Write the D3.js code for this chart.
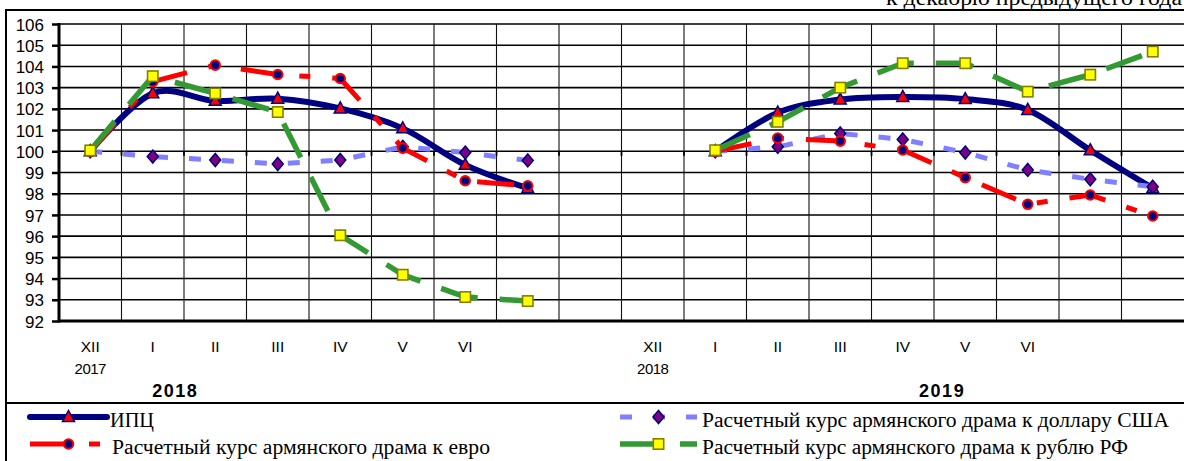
<!DOCTYPE html>
<html><head><meta charset="utf-8">
<script src="https://cdn.jsdelivr.net/npm/d3@7/dist/d3.min.js"></script>
<style>
body{margin:0;background:#fff}svg{display:block}
svg text.serif{font-family:"Liberation Serif","Times New Roman",serif}
svg text.sans{font-family:"Liberation Sans",Arial,sans-serif}
</style>
</head><body>
<script>
// ---- data ----
const categories = ["XII","I","II","III","IV","V","VI","","","XII","I","II","III","IV","V","VI","",""];
const yearLabels = ["2017","","","","","","","","","2018","","","","","","","",""];
const groupLabels = ["2018","2019"];
const yTicks = [92,93,94,95,96,97,98,99,100,101,102,103,104,105,106];
const ipc = [100, 102.73, 102.38, 102.48, 102.02, 101.08, 99.36, 98.26, null, null, 100, 101.82, 102.44, 102.56, 102.46, 101.95, 100.05, 98.26];
const usd = [100, 99.75, 99.59, 99.40, 99.59, 100.21, 99.94, 99.57, null, null, 100, 100.21, 100.84, 100.56, 99.94, 99.12, 98.68, 98.33];
const eur = [100, 103.28, 104.06, 103.62, 103.43, 100.15, 98.61, 98.37, null, null, 100, 100.62, 100.48, 100.06, 98.76, 97.50, 97.94, 96.95];
const rub = [100.04, 103.54, 102.73, 101.85, 96.04, 94.18, 93.13, 92.94, null, null, 100.05, 101.39, 103.00, 104.15, 104.15, 102.81, 103.61, 104.70];
const legendNames = ["ИПЦ", "Расчетный курс армянского драма к доллару США", "Расчетный курс армянского драма к евро", "Расчетный курс армянского драма к рублю РФ"];
const noteText = "к  декабрю предыдущего года";

// ---- layout ----
const W = 1184, H = 461;
const plot = {left: 59, right: 1184, top: 24, bottom: 321};
const svg = d3.select("body").append("svg").attr("width", W).attr("height", H);

const x = d3.scaleLinear().domain([0, categories.length]).range([plot.left, plot.right]);
const xc = i => x(i + 0.5);
const y = d3.scaleLinear().domain([92, 106]).range([plot.bottom, plot.top]);

// top note (cut off at top, as in the original)
svg.append("text").attr("class", "serif").attr("x", 1182).attr("y", 5).attr("text-anchor", "end")
  .attr("font-size", 20)
  .attr("textLength", 296).attr("lengthAdjust", "spacingAndGlyphs").text(noteText);

// frame
svg.append("rect").attr("x", 6).attr("y", 10).attr("width", 1300).attr("height", 600)
  .attr("fill", "none").attr("stroke", "#000").attr("stroke-width", 2);
svg.append("line").attr("x1", 6).attr("x2", W).attr("y1", 403).attr("y2", 403)
  .attr("stroke", "#000").attr("stroke-width", 2.2);

// horizontal grid
const g = svg.append("g");
g.selectAll(".hg").data(yTicks).join("line")
  .attr("x1", plot.left).attr("x2", plot.right)
  .attr("y1", d => y(d)).attr("y2", d => y(d))
  .attr("stroke", "#000").attr("stroke-width", d => d === 92 ? 3 : 1.6);
// vertical grid
const bounds = d3.range(1, categories.length);
g.selectAll(".vg").data(bounds).join("line")
  .attr("x1", d => x(d)).attr("x2", d => x(d))
  .attr("y1", plot.top).attr("y2", plot.bottom)
  .attr("stroke", "#111").attr("stroke-width", 1.1);
// category axis ticks at 100
g.selectAll(".ct").data(bounds).join("line")
  .attr("x1", d => x(d)).attr("x2", d => x(d))
  .attr("y1", y(100)).attr("y2", y(100) + 4.5)
  .attr("stroke", "#000").attr("stroke-width", 1.8);

// y axis
const yAxis = d3.axisLeft(y).tickValues(yTicks).tickSize(7).tickPadding(8).tickFormat(d3.format("d"));
const ya = svg.append("g").attr("transform", `translate(${plot.left},0)`).call(yAxis);
ya.select(".domain").attr("stroke", "#000").attr("stroke-width", 3).attr("d", `M0,${plot.top - 1}V${plot.bottom + 1.5}`);
ya.selectAll(".tick line").attr("stroke", "#000").attr("stroke-width", 2.5);
ya.selectAll(".tick text").attr("class", "sans").attr("font-size", 17)
  .attr("fill", "#000").attr("dy", "0.36em");

// x labels
svg.append("g").selectAll("text").data(categories).join("text").attr("class", "sans")
  .attr("x", (d, i) => xc(i)).attr("y", 352).attr("text-anchor", "middle")
  .attr("font-size", 15.5).text(d => d);
svg.append("g").selectAll("text").data(yearLabels).join("text").attr("class", "sans")
  .attr("x", (d, i) => xc(i)).attr("y", 374).attr("text-anchor", "middle")
  .attr("font-size", 15).attr("letter-spacing", -0.5).text(d => d);
const groupPos = [1.86, 14.13];
svg.append("g").selectAll("text").data(groupLabels).join("text").attr("class", "sans")
  .attr("x", (d, i) => x(groupPos[i])).attr("y", 397).attr("text-anchor", "middle")
  .attr("font-weight", "bold").attr("font-size", 18)
  .attr("letter-spacing", 1.5).text(d => d);

// ---- series ----
const markers = {
  tri: sel => sel.append("path").attr("d", "M0,-6.5L6,4.5L-6,4.5Z").attr("fill", "#ff0000").attr("stroke", "#000080").attr("stroke-width", 1.5),
  dia: sel => sel.append("path").attr("d", "M0,-6.5L5.5,0L0,6.5L-5.5,0Z").attr("fill", "#800080").attr("stroke", "#000080").attr("stroke-width", 1.5),
  cir: sel => sel.append("circle").attr("r", 4.8).attr("fill", "#000080").attr("stroke", "#ff0000").attr("stroke-width", 2),
  sq: sel => sel.append("rect").attr("x", -5.2).attr("y", -5.2).attr("width", 10.4).attr("height", 10.4).attr("fill", "#ffff00").attr("stroke", "#808000").attr("stroke-width", 1.6)
};
const series = [
  {name: legendNames[0], values: ipc, color: "#000080", width: 6, dash: null, curve: d3.curveCardinal.tension(0), marker: "tri", cap: "round"},
  {name: legendNames[1], values: usd, color: "#8080ff", width: 5, dash: "12,21", curve: d3.curveLinear, marker: "dia", cap: "butt"},
  {name: legendNames[2], values: eur, color: "#ff0000", width: 5, dash: "37,22,11,22", curve: d3.curveLinear, marker: "cir", cap: "butt"},
  {name: legendNames[3], values: rub, color: "#339933", width: 5.5, dash: "38,22", curve: d3.curveLinear, marker: "sq", cap: "butt"}
];

series.forEach(s => {
  const line = d3.line().defined(d => d != null).x((d, i) => xc(i)).y(d => y(d)).curve(s.curve);
  const sg = svg.append("g");
  sg.append("path").attr("d", line(s.values)).attr("fill", "none")
    .attr("stroke", s.color).attr("stroke-width", s.width)
    .attr("stroke-dasharray", s.dash).attr("stroke-linecap", s.cap).attr("stroke-linejoin", "round");
  const pts = s.values.map((v, i) => ({v, i})).filter(d => d.v != null);
  pts.forEach(p => {
    const m = sg.append("g").attr("transform", `translate(${xc(p.i)},${y(p.v)})`);
    markers[s.marker](m);
  });
});

// ---- legend ----
const legendPos = [
  {x0: 30, ly: 417, tx: 110, ty: 427, tl: 44},
  {x0: 620, ly: 417, tx: 702, ty: 427, tl: 467},
  {x0: 30, ly: 444, tx: 112, ty: 454, tl: 378},
  {x0: 620, ly: 444, tx: 702, ty: 454, tl: 426}
];
series.forEach((s, k) => {
  const p = legendPos[k];
  const lg = svg.append("g");
  lg.append("path").attr("d", `M${p.x0},${p.ly}H${p.x0 + 77}`)
    .attr("stroke", s.color).attr("stroke-width", s.width).attr("fill", "none")
    .attr("stroke-dasharray", s.dash).attr("stroke-linecap", s.cap);
  const m = lg.append("g").attr("transform", `translate(${p.x0 + 38.5},${p.ly})`);
  markers[s.marker](m);
  lg.append("text").attr("class", "serif").attr("x", p.tx).attr("y", p.ty)
    .attr("font-size", 20)
    .attr("textLength", p.tl).attr("lengthAdjust", "spacingAndGlyphs").text(s.name);
});
</script>
</body></html>
